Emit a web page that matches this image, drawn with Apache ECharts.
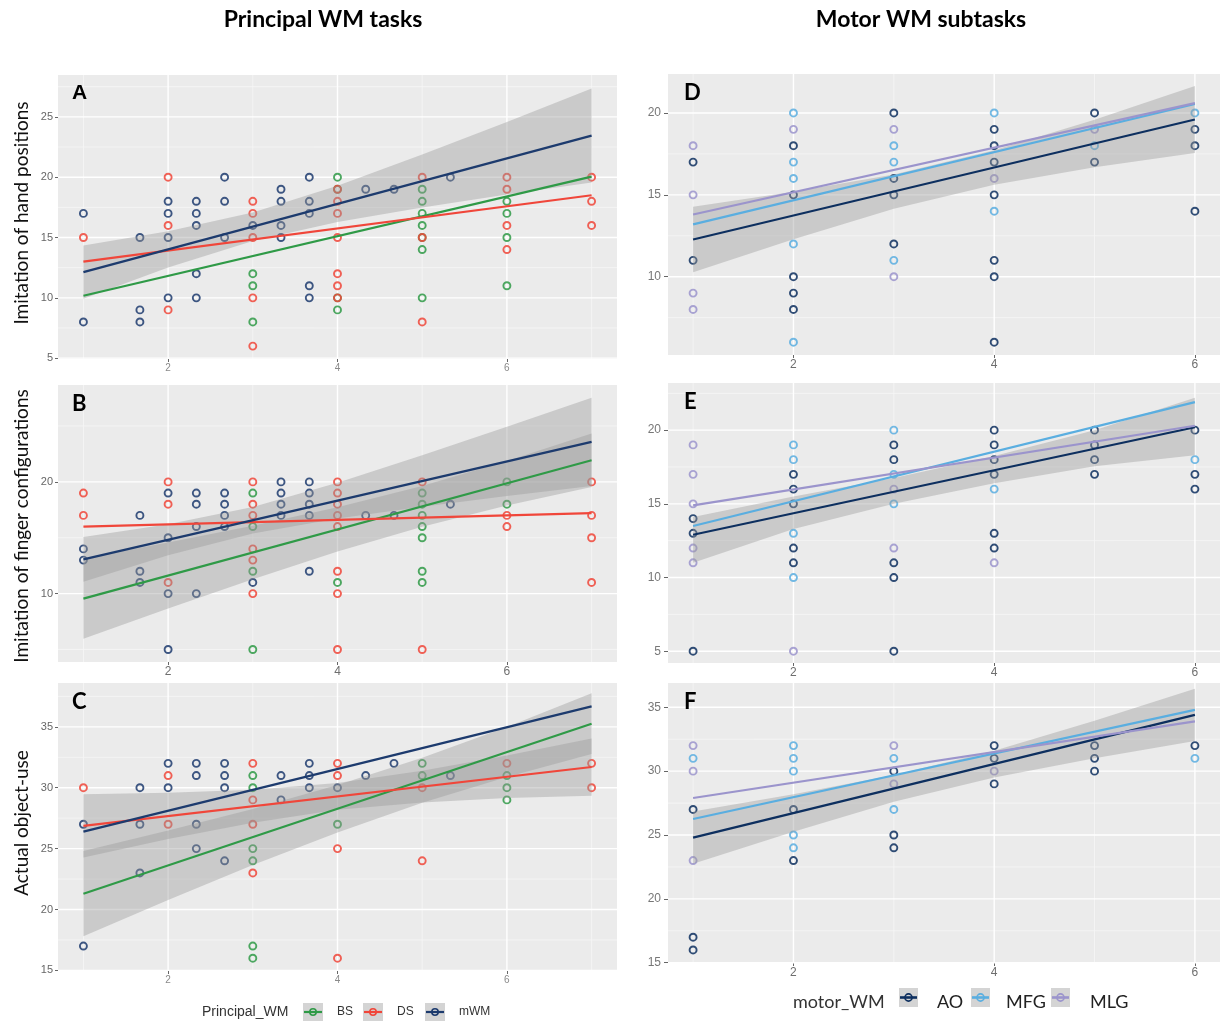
<!DOCTYPE html>
<html>
<head>
<meta charset="utf-8">
<script src="https://cdn.jsdelivr.net/npm/echarts@6/dist/echarts.min.js"></script>
<style>
  html, body { margin: 0; padding: 0; background: #ffffff; }
  #chart { width: 1220px; height: 1022px; }
</style>
</head>
<body>
<div id="chart"></div>
<script>
// ---------------------------------------------------------------
// Scores (x = working-memory span, y = imitation / object-use score)
// ---------------------------------------------------------------

// Panel A: imitation of hand positions vs principal WM tasks
const handBS  = [[3,12],[3,11],[3,8],[4,20],[4,19],[4,10],[4,9],[5,19],[5,18],[5,17],[5,16],[5,15],[5,14],[5,10],[6,18],[6,17],[6,15],[6,11]];
const handDS  = [[1,15],[2,20],[2,16],[2,9],[3,18],[3,17],[3,15],[3,10],[3,6],[4,19],[4,18],[4,17],[4,15],[4,12],[4,11],[4,10],[5,20],[5,15],[5,8],[6,20],[6,19],[6,16],[6,14],[7,20],[7,18],[7,16]];
const handMWM = [[1,17],[1,8],[1.667,15],[1.667,9],[1.667,8],[2,18],[2,17],[2,15],[2,10],[2.333,18],[2.333,17],[2.333,16],[2.333,12],[2.333,10],[2.667,20],[2.667,18],[2.667,15],[3,16],[3.333,19],[3.333,18],[3.333,16],[3.333,15],[3.667,20],[3.667,18],[3.667,17],[3.667,11],[3.667,10],[4.333,19],[4.667,19],[5.333,20]];

// Panel B: imitation of finger configurations vs principal WM tasks
const fingerBS  = [[3,19],[3,16],[3,12],[3,5],[4,11],[5,19],[5,18],[5,17],[5,16],[5,15],[5,12],[5,11],[6,20],[6,18]];
const fingerDS  = [[1,19],[1,17],[2,20],[2,18],[2,11],[3,20],[3,18],[3,17],[3,14],[3,13],[3,10],[4,20],[4,19],[4,18],[4,17],[4,16],[4,12],[4,10],[4,5],[5,20],[5,5],[6,17],[6,16],[7,20],[7,17],[7,15],[7,11]];
const fingerMWM = [[1,14],[1,13],[1.667,17],[1.667,12],[1.667,11],[2,19],[2,15],[2,10],[2,5],[2.333,19],[2.333,18],[2.333,16],[2.333,10],[2.667,19],[2.667,18],[2.667,17],[2.667,16],[3,11],[3.333,20],[3.333,19],[3.333,18],[3.333,17],[3.667,20],[3.667,19],[3.667,18],[3.667,17],[3.667,12],[4.333,17],[4.667,17],[5.333,18]];

// Panel C: actual object-use vs principal WM tasks
const objectBS  = [[3,31],[3,30],[3,25],[3,24],[3,17],[3,16],[4,27],[5,32],[5,31],[6,31],[6,30],[6,29]];
const objectDS  = [[1,30],[2,31],[2,27],[3,32],[3,29],[3,27],[3,23],[4,32],[4,31],[4,25],[4,16],[5,30],[5,24],[6,32],[7,32],[7,30]];
const objectMWM = [[1,27],[1,17],[1.667,30],[1.667,27],[1.667,23],[2,32],[2,30],[2.333,32],[2.333,31],[2.333,27],[2.333,25],[2.667,32],[2.667,31],[2.667,30],[2.667,24],[3.333,31],[3.333,29],[3.667,32],[3.667,31],[3.667,30],[4,30],[4.333,31],[4.667,32],[5.333,31]];

// Panel D: imitation of hand positions vs motor WM subtasks
const handAO  = [[1,17],[1,11],[2,18],[2,15],[2,10],[2,9],[2,8],[3,20],[3,16],[3,15],[3,12],[4,19],[4,18],[4,17],[4,15],[4,11],[4,10],[4,6],[5,20],[5,17],[6,19],[6,18],[6,14]];
const handMFG = [[2,20],[2,17],[2,16],[2,12],[2,6],[3,18],[3,17],[3,11],[4,20],[4,14],[5,18],[6,20]];
const handMLG = [[1,18],[1,15],[1,9],[1,8],[2,19],[3,19],[3,10],[4,16],[5,19]];

// Panel E: imitation of finger configurations vs motor WM subtasks
const fingerAO  = [[1,14],[1,13],[1,5],[2,17],[2,16],[2,15],[2,12],[2,11],[3,19],[3,18],[3,11],[3,10],[3,5],[4,20],[4,19],[4,18],[4,17],[4,13],[4,12],[5,20],[5,19],[5,18],[5,17],[6,20],[6,17],[6,16]];
const fingerMFG = [[2,19],[2,18],[2,13],[2,10],[3,20],[3,17],[3,15],[4,16],[6,18]];
const fingerMLG = [[1,19],[1,17],[1,15],[1,12],[1,11],[2,5],[3,16],[3,12],[4,11]];

// Panel F: actual object-use vs motor WM subtasks
const objectAO  = [[1,27],[1,17],[1,16],[2,27],[2,23],[3,30],[3,25],[3,24],[4,32],[4,31],[4,29],[5,32],[5,31],[5,30],[6,32]];
const objectMFG = [[1,31],[2,32],[2,31],[2,30],[2,25],[2,24],[3,31],[3,27],[6,31]];
const objectMLG = [[1,32],[1,30],[1,23],[3,32],[3,29],[4,30]];

// Fitted linear trends (end points)
const fitHandBS = [[1,10.17],[7,20.05]], fitHandDS = [[1,13.0],[7,18.5]], fitHandMWM = [[1,12.13],[7,23.45]];
const fitFingerBS = [[1,9.55],[7,21.94]], fitFingerDS = [[1,16.0],[7,17.2]], fitFingerMWM = [[1,13.07],[7,23.58]];
const fitObjectBS = [[1,21.3],[7,35.26]], fitObjectDS = [[1,26.87],[7,31.7]], fitObjectMWM = [[1,26.4],[7,36.68]];
const fitHandAO = [[1,12.27],[6,19.6]], fitHandMFG = [[1,13.2],[6,20.55]], fitHandMLG = [[1,13.8],[6,20.6]];
const fitFingerAO = [[1,12.9],[6,20.2]], fitFingerMFG = [[1,13.5],[6,21.9]], fitFingerMLG = [[1,14.9],[6,20.3]];
const fitObjectAO = [[1,24.8],[6,34.4]], fitObjectMFG = [[1,26.25],[6,34.8]], fitObjectMLG = [[1,27.9],[6,33.9]];

// Confidence bands (upper / lower edge at each integer x)
const bandXPrincipal = [1,2,3,4,5,6,7];
const bandXMotor = [1,2,3,4,5,6];
const bandHandMWMHi = [14.33,15.52,17.08,19.29,21.88,24.57,27.35];
const bandHandMWMLo = [9.93,12.52,14.72,16.29,17.48,18.57,19.55];
const bandFingerMWMHi = [15.07,16.2,17.76,19.93,22.38,24.93,27.54];
const bandFingerMWMLo = [11.07,13.44,15.38,16.73,17.78,18.73,19.62];
const bandFingerBSHi = [13.15,14.58,16.08,17.74,19.64,21.87,24.34];
const bandFingerBSLo = [5.95,8.66,11.28,13.76,15.98,17.89,19.54];
const bandObjectBSHi = [24.8,26.48,28.25,30.23,32.46,34.99,37.76];
const bandObjectBSLo = [17.8,20.78,23.65,26.33,28.76,30.89,32.76];
const bandObjectDSHi = [29.47,29.58,29.83,30.39,31.39,32.65,34.05];
const bandObjectDSLo = [24.27,25.78,27.13,28.19,28.79,29.15,29.35];
const bandHandAOHi = [14.27,15.19,16.25,17.72,19.58,21.65];
const bandHandAOLo = [10.27,12.29,14.15,15.62,16.68,17.55];
const bandFingerAOHi = [14.1,15.5,16.75,18.25,20.0,22.2];
const bandFingerAOLo = [11.0,13.3,15.0,16.4,17.55,18.3];
const bandObjectAOHi = [26.85,28.2,29.7,31.6,33.95,36.45];
const bandObjectAOLo = [22.75,25.25,27.6,29.5,31.0,32.35];

// Tick values and grid lines
const xTicksPrincipal = [2,4,6], xMinorPrincipal = [1,3,5,7];
const xTicksMotor = [2,4,6], xMinorMotor = [1,3,5];
const yTicksA = [5,10,15,20,25], yMinorA = [7.5,12.5,17.5,22.5,27.5];
const yTicksB = [10,20], yMinorB = [5,15,25];
const yTicksC = [15,20,25,30,35], yMinorC = [17.5,22.5,27.5,32.5,37.5];
const yTicksD = [10,15,20], yMinorD = [7.5,12.5,17.5];
const yTicksE = [5,10,15,20], yMinorE = [7.5,12.5,17.5,22.5];
const yTicksF = [15,20,25,30,35], yMinorF = [17.5,22.5,27.5,32.5];

// Group names and colours
const principalGroups = ['BS','DS','mWM'];
const motorGroups = ['AO','MFG','MLG'];
const principalColors = ['#2f9a47','#f0463a','#1d3b6e'];
const motorColors = ['#0d2f5f','#5aaee0','#9b94cc'];

// ---------------------------------------------------------------
const panels = [
  { tag:'A', grid:{left:58, top:75, width:559, height:284}, x:[0.7,7.3], y:[4.93,28.47],
    xt:xTicksPrincipal, xm:xMinorPrincipal, yt:yTicksA, ym:yMinorA, side:'L', xlab:{size:10,color:'#8a8a8a'},
    pts:[handBS,handDS,handMWM], fits:[fitHandBS,fitHandDS,fitHandMWM], cols:principalColors,
    bands:[[bandXPrincipal,bandHandMWMLo,bandHandMWMHi]] },
  { tag:'B', grid:{left:58, top:385, width:559, height:277}, x:[0.7,7.3], y:[3.88,28.67],
    xt:xTicksPrincipal, xm:xMinorPrincipal, yt:yTicksB, ym:yMinorB, side:'L', xlab:{size:12,color:'#6e6e6e'},
    pts:[fingerBS,fingerDS,fingerMWM], fits:[fitFingerBS,fitFingerDS,fitFingerMWM], cols:principalColors,
    bands:[[bandXPrincipal,bandFingerBSLo,bandFingerBSHi],[bandXPrincipal,bandFingerMWMLo,bandFingerMWMHi]] },
  { tag:'C', grid:{left:58, top:683, width:559, height:288}, x:[0.7,7.3], y:[14.95,38.6],
    xt:xTicksPrincipal, xm:xMinorPrincipal, yt:yTicksC, ym:yMinorC, side:'L', xlab:{size:10,color:'#8a8a8a'},
    pts:[objectBS,objectDS,objectMWM], fits:[fitObjectBS,fitObjectDS,fitObjectMWM], cols:principalColors,
    bands:[[bandXPrincipal,bandObjectBSLo,bandObjectBSHi],[bandXPrincipal,bandObjectDSLo,bandObjectDSHi]] },
  { tag:'D', grid:{left:668, top:74, width:556, height:281}, x:[0.75,6.25], y:[5.22,22.38],
    xt:xTicksMotor, xm:xMinorMotor, yt:yTicksD, ym:yMinorD, side:'R', xlab:{size:12,color:'#6e6e6e'},
    pts:[handAO,handMFG,handMLG], fits:[fitHandAO,fitHandMFG,fitHandMLG], cols:motorColors,
    bands:[[bandXMotor,bandHandAOLo,bandHandAOHi]] },
  { tag:'E', grid:{left:668, top:383, width:556, height:280}, x:[0.75,6.25], y:[4.2,23.2],
    xt:xTicksMotor, xm:xMinorMotor, yt:yTicksE, ym:yMinorE, side:'R', xlab:{size:12,color:'#6e6e6e'},
    pts:[fingerAO,fingerMFG,fingerMLG], fits:[fitFingerAO,fitFingerMFG,fitFingerMLG], cols:motorColors,
    bands:[[bandXMotor,bandFingerAOLo,bandFingerAOHi]] },
  { tag:'F', grid:{left:668, top:683, width:556, height:280}, x:[0.75,6.25], y:[14.98,36.9],
    xt:xTicksMotor, xm:xMinorMotor, yt:yTicksF, ym:yMinorF, side:'R', xlab:{size:12,color:'#6e6e6e'},
    pts:[objectAO,objectMFG,objectMLG], fits:[fitObjectAO,fitObjectMFG,fitObjectMLG], cols:motorColors,
    bands:[[bandXMotor,bandObjectAOLo,bandObjectAOHi]] }
];

const grids = [], xAxes = [], yAxes = [], series = [], graphics = [];

panels.forEach((p, gi) => {
  grids.push(Object.assign({ show:true, backgroundColor:'#ebebeb', borderWidth:0, containLabel:false }, p.grid));

  xAxes.push({
    gridIndex:gi, type:'value', min:p.x[0], max:p.x[1],
    axisLine:{show:false}, splitLine:{show:false},
    axisTick:{show:true, customValues:p.xt, length:3, lineStyle:{color:'#666', width:1}},
    axisLabel:{customValues:p.xt, fontSize:p.xlab.size, color:p.xlab.color, margin:4, fontFamily:'Liberation Sans'}
  });
  yAxes.push({
    gridIndex:gi, type:'value', min:p.y[0], max:p.y[1],
    axisLine:{show:false}, splitLine:{show:false},
    axisTick:{show:true, customValues:p.yt, length:p.side === 'L' ? 3 : 4, lineStyle:{color:'#666', width:1}},
    axisLabel:{customValues:p.yt, fontSize:p.side === 'L' ? 11 : 12, color:p.side === 'L' ? '#666' : '#777',
               margin:p.side === 'L' ? 5 : 7, fontFamily:'Liberation Sans'}
  });

  // background grid lines (minor first, then major)
  const gl = [];
  p.xm.forEach(v => gl.push([v, 0, 0]));
  p.ym.forEach(v => gl.push([v, 1, 0]));
  p.xt.forEach(v => gl.push([v, 0, 1]));
  p.yt.forEach(v => gl.push([v, 1, 1]));
  const xLo = p.x[0], yLo = p.y[0];
  series.push({
    type:'custom', xAxisIndex:gi, yAxisIndex:gi, z:1, silent:true, data:gl,
    renderItem:(params, api) => {
      const v = api.value(0), orient = api.value(1), major = api.value(2);
      const cs = params.coordSys;
      let shape;
      if (orient === 0) {
        const x = api.coord([v, yLo])[0];
        shape = {x1:x, y1:cs.y, x2:x, y2:cs.y + cs.height};
      } else {
        const y = api.coord([xLo, v])[1];
        shape = {x1:cs.x, y1:y, x2:cs.x + cs.width, y2:y};
      }
      return {type:'line', shape, style:{stroke: major ? '#ffffff' : '#f6f6f6', lineWidth: major ? 1.4 : 0.8}};
    }
  });

  // observed scores
  p.pts.forEach((d, k) => {
    series.push({
      type:'scatter', xAxisIndex:gi, yAxisIndex:gi, z:2, silent:true, data:d,
      symbol:'circle', symbolSize:7,
      itemStyle:{color:'rgba(0,0,0,0)', borderColor:p.cols[k], borderWidth:1.9, opacity:0.85}
    });
  });

  // confidence bands
  p.bands.forEach(b => {
    const xs = b[0], lo = b[1], hi = b[2];
    series.push({
      type:'custom', xAxisIndex:gi, yAxisIndex:gi, z:3, silent:true, data:[[xs[0], lo[0]]],
      renderItem:(params, api) => {
        const pts = [];
        for (let i = 0; i < xs.length; i++) pts.push(api.coord([xs[i], hi[i]]));
        for (let i = xs.length - 1; i >= 0; i--) pts.push(api.coord([xs[i], lo[i]]));
        return {type:'polygon', shape:{points:pts}, style:{fill:'rgba(153,153,153,0.4)'}};
      }
    });
  });

  // regression lines
  p.fits.forEach((f, k) => {
    series.push({
      type:'line', xAxisIndex:gi, yAxisIndex:gi, z:4, silent:true, data:f,
      symbol:'none', showSymbol:false, lineStyle:{color:p.cols[k], width:2.2}
    });
  });

  // panel tag
  graphics.push({
    type:'text', left:p.grid.left + (p.side === 'L' ? 14 : 16), top:p.grid.top + 8, z:50,
    style:{text:p.tag, font: p.side === 'L' && p.tag === 'A' ? 'bold 21px "Liberation Sans"' : 'bold 22px Lato', fill:'#000'}
  });
});

// column titles
graphics.push({type:'text', x:323, y:20, style:{text:'Principal WM tasks', font:'bold 23px Lato', fill:'#000', align:'center', verticalAlign:'middle'}});
graphics.push({type:'text', x:921, y:20, style:{text:'Motor WM subtasks', font:'bold 23px Lato', fill:'#000', align:'center', verticalAlign:'middle'}});

// row titles
const rowTitles = [['Imitation of hand positions', 213], ['Imitation of finger configurations', 526], ['Actual object-use', 823]];
rowTitles.forEach(r => {
  graphics.push({type:'text', x:22, y:r[1], rotation:Math.PI / 2,
    style:{text:r[0], font:'19px Lato', fill:'#111', align:'center', verticalAlign:'middle'}});
});

// legends
function legendKey(x, y, w, h, col, lw, r) {
  graphics.push({type:'rect', shape:{x:x, y:y, width:w, height:h}, style:{fill:'#d4d4d4'}});
  graphics.push({type:'line', shape:{x1:x + 1, y1:y + h / 2, x2:x + w - 1, y2:y + h / 2}, style:{stroke:col, lineWidth:lw}});
  graphics.push({type:'circle', shape:{cx:x + w / 2, cy:y + h / 2, r:r}, style:{fill:'none', stroke:col, lineWidth:1.6}});
}
graphics.push({type:'text', x:202, y:1012, style:{text:'Principal_WM', font:'14px "Liberation Sans"', fill:'#333', verticalAlign:'middle'}});
const leftKeyX = [303, 363, 425], leftLabelX = [337, 397, 459];
principalGroups.forEach((g, i) => {
  legendKey(leftKeyX[i], 1003, 20, 18, principalColors[i], 2.2, 3.2);
  graphics.push({type:'text', x:leftLabelX[i], y:1012, style:{text:g, font:'12px "Liberation Sans"', fill:'#333', verticalAlign:'middle'}});
});
graphics.push({type:'text', x:793, y:1002, style:{text:'motor_WM', font:'18px Lato', fill:'#333', verticalAlign:'middle'}});
const rightKeyX = [899, 971, 1051], rightLabelX = [937, 1006, 1090];
motorGroups.forEach((g, i) => {
  legendKey(rightKeyX[i], 988, 19, 19, motorColors[i], 2.6, 3.6);
  graphics.push({type:'text', x:rightLabelX[i], y:1002, style:{text:g, font:'18px Lato', fill:'#222', verticalAlign:'middle'}});
});

const chart = echarts.init(document.getElementById('chart'), null, {renderer:'canvas'});
chart.setOption({
  animation:false,
  backgroundColor:'#ffffff',
  grid:grids, xAxis:xAxes, yAxis:yAxes, series:series, graphic:graphics
});
</script>
</body>
</html>
